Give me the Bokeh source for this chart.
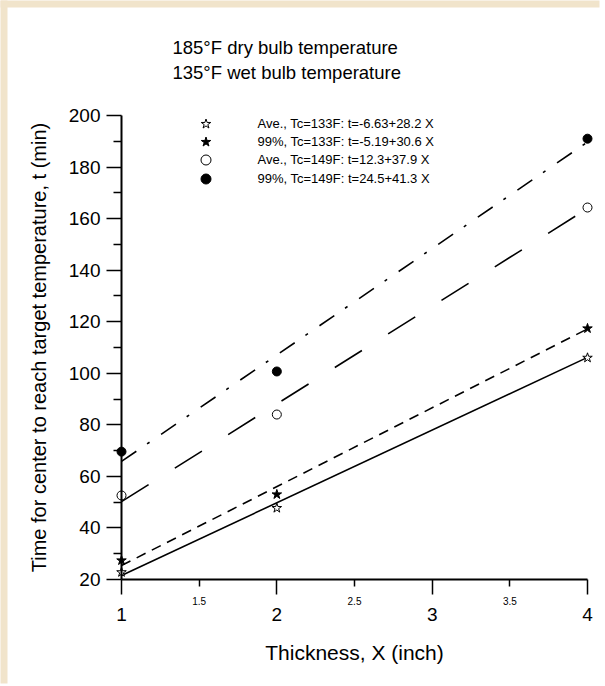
from bokeh.plotting import figure
from bokeh.models import (FixedTicker, Legend, LegendItem, LinearAxis, Label,
                          Range1d, BoxAnnotation)
from bokeh.embed import file_html
from bokeh.resources import INLINE

# ---- data ----
thickness = [1, 2, 4]
ave_133 = [22.8, 47.7, 106.0]
p99_133 = [27.4, 53.0, 117.4]
ave_149 = [52.6, 84.0, 164.3]
p99_149 = [69.6, 100.7, 191.0]

fit_intercepts = [-6.63, -5.19, 12.3, 24.5]
fit_slopes = [28.2, 30.6, 37.9, 41.3]
legend_labels = [
    "Ave., Tc=133F: t=-6.63+28.2 X",
    "99%, Tc=133F: t=-5.19+30.6 X",
    "Ave., Tc=149F: t=12.3+37.9 X",
    "99%, Tc=149F: t=24.5+41.3 X",
]
x_major_ticks = [1, 2, 3, 4]
x_half_ticks = [1.5, 2.5, 3.5]
y_major_ticks = [20, 40, 60, 80, 100, 120, 140, 160, 180, 200]
y_minor_ticks = [30, 50, 70, 90, 110, 130, 150, 170, 190]
title_lines = ["185°F dry bulb temperature", "135°F wet bulb temperature"]

FONT = "Liberation Sans"
X_MIN, X_MAX = 1, 4
Y_MIN, Y_MAX = 20, 200

# ---- layout (pixels): the plot frame covers the whole canvas and the axes
# are drawn at fixed data locations inside it ----
W, H = 600, 684
AX_LEFT, AX_RIGHT = 121, 587      # pixel x of X_MIN, X_MAX
AX_BOTTOM, AX_TOP = 579, 115      # pixel y of Y_MIN, Y_MAX
PAPER_LEFT, PAPER_TOP = 7, 7      # beige edge of the scanned sheet
BEIGE = "#f1e4cb"
kx = (AX_RIGHT - AX_LEFT) / (X_MAX - X_MIN)
ky = (AX_BOTTOM - AX_TOP) / (Y_MAX - Y_MIN)


def px_x(px):
    return X_MIN + (px - AX_LEFT) / kx


def px_y(py):
    return Y_MIN + (AX_BOTTOM - py) / ky


p = figure(width=W, height=H, output_backend="svg", toolbar_location=None,
           x_range=Range1d(px_x(0), px_x(W)), y_range=Range1d(px_y(H), px_y(0)),
           min_border=0, x_axis_location=None, y_axis_location=None)
p.outline_line_color = None
p.background_fill_color = "white"
p.border_fill_color = "white"
p.grid.visible = False
p.title.visible = False

# beige strips along the left and top edges (all four edges given)
p.add_layout(BoxAnnotation(left=px_x(-5), right=px_x(PAPER_LEFT),
                           top=px_y(-5), bottom=px_y(H - 1),
                           fill_color=BEIGE, fill_alpha=1, line_color=None,
                           level="underlay"))
p.add_layout(BoxAnnotation(left=px_x(-5), right=px_x(W - 1),
                           top=px_y(-5), bottom=px_y(PAPER_TOP),
                           fill_color=BEIGE, fill_alpha=1, line_color=None,
                           level="underlay"))

common = dict(major_tick_in=0, minor_tick_in=0, axis_line_width=2,
              axis_line_color="black", major_tick_line_color="black",
              minor_tick_line_color="black",
              major_tick_line_width=1.5, minor_tick_line_width=1.5,
              major_label_text_font=FONT, major_label_text_color="black",
              axis_label_text_font=FONT, axis_label_text_color="black",
              axis_label_text_font_style="normal")

# x axis: integer ticks with large labels
xa = LinearAxis(fixed_location=Y_MIN, bounds=(X_MIN, X_MAX),
                ticker=FixedTicker(ticks=x_major_ticks, minor_ticks=[]),
                major_tick_out=15, major_label_text_font_size="19px",
                major_label_standoff=13, axis_label="Thickness, X (inch)",
                axis_label_text_font_size="21px", axis_label_standoff=17,
                **common)
p.add_layout(xa, "below")

# x axis: half ticks with small labels, at the same place
xh = LinearAxis(fixed_location=Y_MIN, bounds=(X_MIN, X_MAX),
                ticker=FixedTicker(ticks=x_half_ticks, minor_ticks=[]),
                axis_line_color=None, major_tick_out=7, major_tick_in=0,
                major_tick_line_width=1.5, major_tick_line_color="black",
                major_label_standoff=10, major_label_text_color="black",
                major_label_text_font=FONT, major_label_text_font_size="10px")
p.add_layout(xh, "below")

# y axis
ya = LinearAxis(fixed_location=X_MIN, bounds=(Y_MIN, Y_MAX),
                ticker=FixedTicker(ticks=y_major_ticks, minor_ticks=y_minor_ticks),
                major_tick_out=15, minor_tick_out=8,
                major_label_text_font_size="19px", major_label_standoff=6,
                axis_label="Time for center to reach target temperature, t (min)",
                axis_label_text_font_size="20px", axis_label_standoff=16,
                **common)
p.add_layout(ya, "left")

# fitted lines
dashes = ["solid", "10 7", "32 31", "18 13 3 14"]
x_line = [thickness[0], thickness[-1]]
for b0, b1, d in zip(fit_intercepts, fit_slopes, dashes):
    p.line(x_line, [b0 + b1 * xx for xx in x_line], line_color="black",
           line_width=1.6, line_dash=d)

# points
r1 = p.scatter(thickness, ave_133, marker="star", size=10, line_color="black",
               fill_color="white", line_width=1)
r2 = p.scatter(thickness, p99_133, marker="star", size=10, line_color="black",
               fill_color="black", line_width=1)
r3 = p.scatter(thickness, ave_149, marker="circle", size=9, line_color="black",
               fill_color="white", line_width=1)
r4 = p.scatter(thickness, p99_149, marker="circle", size=9, line_color="black",
               fill_color="black", line_width=1)

# legend: one single-item legend per row
LEG_X, LEG_Y0, LEG_DY, GLYPH = 192.5, 123, 18.4, 25
for i, (lab, r) in enumerate(zip(legend_labels, [r1, r2, r3, r4])):
    cy = LEG_Y0 + LEG_DY * i
    p.add_layout(Legend(items=[LegendItem(label=lab, renderers=[r])],
                        location=(LEG_X, H - cy - GLYPH / 2),
                        glyph_width=GLYPH, glyph_height=GLYPH,
                        label_height=GLYPH, label_standoff=40, spacing=0,
                        padding=0, margin=0, border_line_color=None,
                        background_fill_alpha=0, label_text_font=FONT,
                        label_text_color="black",
                        label_text_font_size="13px"))

# two-line title
for i, line in enumerate(title_lines):
    p.add_layout(Label(x=px_x(172), y=px_y(47 + 25 * i), text=line,
                       text_align="left", text_baseline="middle",
                       text_color="black", text_font=FONT,
                       text_font_size="18.5px"))

open("out.html", "w").write(file_html(p, INLINE))
